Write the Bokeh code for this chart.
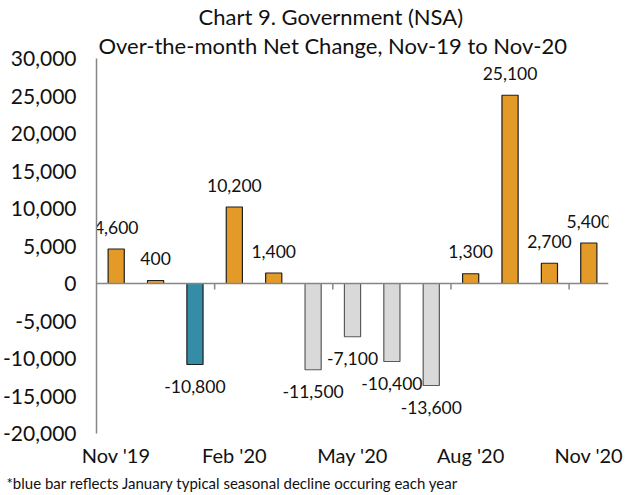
from bokeh.plotting import figure
from bokeh.models import (ColumnDataSource, Span, Title, FixedTicker,
                          NumeralTickFormatter, Range1d)
from bokeh.core.properties import value
from bokeh.embed import file_html
from bokeh.resources import INLINE

months = ["Nov '19", "Dec '19", "Jan '20", "Feb '20", "Mar '20", "Apr '20",
          "May '20", "Jun '20", "Jul '20", "Aug '20", "Sep '20", "Oct '20", "Nov '20"]
changes = [4600, 400, -10800, 10200, 1400, -11500, -7100, -10400, -13600,
           1300, 25100, 2700, 5400]
kinds = ["gain", "gain", "seasonal", "gain", "gain", "loss", "loss", "loss", "loss",
         "gain", "gain", "gain", "gain"]
y_ticks = [-20000, -15000, -10000, -5000, 0, 5000, 10000, 15000, 20000, 25000, 30000]
label_every = 3

FONT = "Lato"
fill_map = {"gain": "#E39A27", "seasonal": "#348CA7", "loss": "#D9D9D9"}
line_map = {"gain": "#1E1E1E", "seasonal": "#1E1E1E", "loss": "#5A5A5A"}

xs = list(range(len(months)))
src = ColumnDataSource(dict(
    x=xs,
    y=changes,
    fill=[fill_map[k] for k in kinds],
    line=[line_map[k] for k in kinds],
    text=[f"{v:,}" for v in changes],
    off=[-22 if v >= 0 else 22 for v in changes],
))

p = figure(frame_width=512, frame_height=375, output_backend="svg", toolbar_location=None,
           title=None, x_range=Range1d(-0.5, len(months) - 0.5),
           y_range=Range1d(y_ticks[0], y_ticks[-1]),
           min_border_left=90, min_border_right=18, min_border_top=0,
           min_border_bottom=0)
p.outline_line_color = None
p.grid.visible = False
p.background_fill_color = "white"
p.border_fill_color = "white"

# zero line with tick marks between every third month
p.add_layout(Span(location=0, dimension="width", line_color="#868686", line_width=1.5))
bounds = [i - 0.5 for i in range(label_every, len(months), label_every)]
p.segment(x0=bounds, x1=bounds, y0=[0] * len(bounds), y1=[-800] * len(bounds),
          line_color="#868686", line_width=1.5)

p.vbar(x="x", top="y", bottom=0, width=0.41, source=src,
       fill_color="fill", line_color="line", line_width=1.2)

p.text(x="x", y="y", text="text", y_offset="off", source=src,
       text_align="center", text_baseline="middle",
       text_font=value(FONT), text_font_size="17.5px", text_color="#111111")

# y axis
p.yaxis.ticker = FixedTicker(ticks=y_ticks)
p.yaxis.formatter = NumeralTickFormatter(format="0,0")
p.yaxis.major_tick_line_color = None
p.yaxis.minor_tick_line_color = None
p.yaxis.major_tick_out = 0
p.yaxis.major_tick_in = 0
p.yaxis.axis_line_color = "#868686"
p.yaxis.axis_line_width = 1.5
p.yaxis.major_label_text_font = FONT
p.yaxis.major_label_text_font_size = "21px"
p.yaxis.major_label_text_color = "#111111"
p.yaxis.major_label_standoff = 20

# x axis (labels low)
lab_idx = list(range(0, len(months), label_every))
p.xaxis.ticker = FixedTicker(ticks=lab_idx)
p.xaxis.major_label_overrides = {i: months[i] for i in lab_idx}
p.xaxis.major_tick_line_color = None
p.xaxis.minor_tick_line_color = None
p.xaxis.major_tick_out = 0
p.xaxis.major_tick_in = 0
p.xaxis.axis_line_color = None
p.xaxis.major_label_text_font = FONT
p.xaxis.major_label_text_font_size = "20px"
p.xaxis.major_label_text_color = "#111111"
p.xaxis.major_label_standoff = 9

p.add_layout(Title(text="Over-the-month Net Change, Nov-19 to Nov-20", align="left",
                   text_font=FONT, text_font_size="22px", text_font_style="normal",
                   text_color="#111111", standoff=0, offset=2), "above")
p.add_layout(Title(text="Chart 9. Government (NSA)", align="left",
                   text_font=FONT, text_font_size="22px", text_font_style="normal",
                   text_color="#111111", standoff=0, offset=102), "above")
p.add_layout(Title(text="*blue bar reflects January typical seasonal decline occuring each year",
                   align="left", text_font=FONT, text_font_size="15px",
                   text_font_style="normal", text_color="#111111", standoff=4,
                   offset=-90), "below")

open("out.html", "w").write(file_html(p, INLINE))
